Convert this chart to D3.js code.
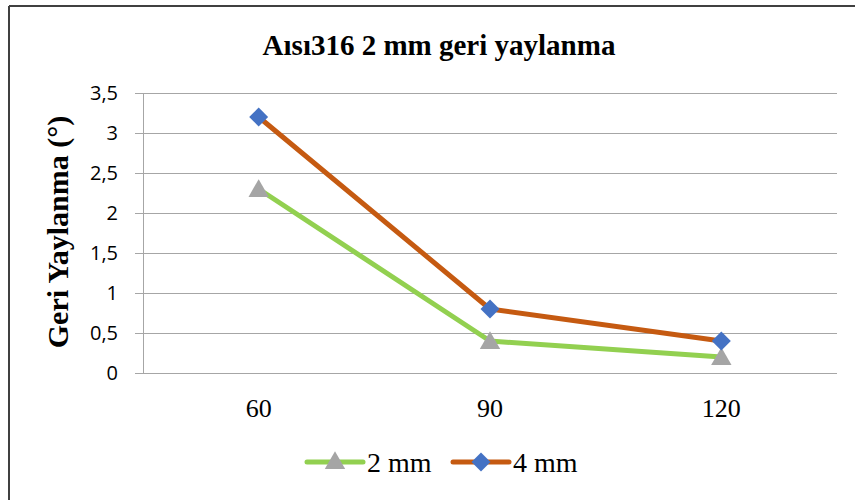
<!DOCTYPE html>
<html>
<head>
<meta charset="utf-8">
<script src="https://cdn.jsdelivr.net/npm/d3@7"></script>
<style>
  body { margin: 0; background: #fff; }
</style>
</head>
<body>
<div id="chart"></div>
<script>
// chart data
const categories = ["60", "90", "120"];
const series2mm = [2.3, 0.4, 0.2];
const series4mm = [3.2, 0.8, 0.4];
const yTicks = [0, 0.5, 1, 1.5, 2, 2.5, 3, 3.5];
const seriesNames = ["2 mm", "4 mm"];

const width = 855, height = 500;
const plot = {left: 143, right: 837, top: 93, bottom: 373};
const serif = "'Liberation Serif', 'Times New Roman', serif";

var svg = d3.select("#chart")
    .append("svg")
    .attr("width", width)
    .attr("height", height);

// outer frame (only top and left visible)
svg.append("line")
    .attr("x1", 9).attr("x2", 855).attr("y1", 6).attr("y2", 6)
    .style("stroke", "#404040").style("stroke-width", 2);
svg.append("line")
    .attr("x1", 9).attr("x2", 9).attr("y1", 6).attr("y2", 500)
    .style("stroke", "#404040").style("stroke-width", 2);

const x = d3.scaleBand()
    .domain(categories)
    .range([plot.left, plot.right]);

const y = d3.scaleLinear()
    .domain([0, 3.5])
    .range([plot.bottom, plot.top]);

const fmt = d => String(d).replace(".", ",");

// gridlines
svg.append("g")
    .selectAll("line")
    .data(yTicks)
    .enter()
    .append("line")
    .attr("x1", plot.left - 8)
    .attr("x2", plot.right)
    .attr("y1", d => Math.round(y(d)) + 0.5)
    .attr("y2", d => Math.round(y(d)) + 0.5)
    .style("stroke", "#a6a6a6")
    .style("stroke-width", 1);

// vertical axis line
svg.append("line")
    .attr("x1", plot.left + 0.5).attr("x2", plot.left + 0.5)
    .attr("y1", plot.top).attr("y2", plot.bottom)
    .style("stroke", "#a6a6a6");

// y tick labels
svg.append("g")
    .selectAll("text")
    .data(yTicks)
    .enter()
    .append("text")
    .attr("x", 118)
    .attr("y", d => y(d))
    .attr("dy", "0.36em")
    .attr("text-anchor", "end")
    .style("font-family", "'Open Sans', sans-serif")
    .style("font-size", "20px")
    .style("fill", "#000")
    .text(fmt);

// x tick labels
svg.append("g")
    .selectAll("text")
    .data(categories)
    .enter()
    .append("text")
    .attr("x", d => x(d) + x.bandwidth() / 2)
    .attr("y", 417)
    .attr("text-anchor", "middle")
    .style("font-family", serif)
    .style("font-size", "26px")
    .text(d => d);

// title
svg.append("text")
    .attr("x", 439)
    .attr("y", 55)
    .attr("text-anchor", "middle")
    .style("font-family", serif)
    .style("font-weight", "bold")
    .style("font-size", "29px")
    .text("Aısı316 2 mm geri yaylanma");

// y axis title
svg.append("text")
    .attr("transform", "translate(68,232) rotate(-90)")
    .attr("text-anchor", "middle")
    .style("font-family", serif)
    .style("font-weight", "bold")
    .style("font-size", "30px")
    .text("Geri Yaylanma (°)");

const line = d3.line()
    .x((d, i) => x(categories[i]) + x.bandwidth() / 2)
    .y(d => y(d));

const triangle = d3.symbol().type(d3.symbolTriangle).size(180);
const diamond = d3.symbol().type(d3.symbolSquare).size(180);

// 2 mm series
svg.append("path")
    .datum(series2mm)
    .attr("d", line)
    .style("fill", "none")
    .style("stroke", "#92d050")
    .style("stroke-width", 5)
    .style("stroke-linejoin", "round");

// 4 mm series
svg.append("path")
    .datum(series4mm)
    .attr("d", line)
    .style("fill", "none")
    .style("stroke", "#c55a11")
    .style("stroke-width", 5)
    .style("stroke-linejoin", "round");

svg.append("g")
    .selectAll("path")
    .data(series2mm)
    .enter()
    .append("path")
    .attr("d", triangle)
    .attr("transform", (d, i) => `translate(${x(categories[i]) + x.bandwidth() / 2},${y(d) + 2})`)
    .style("fill", "#a5a5a5");

svg.append("g")
    .selectAll("path")
    .data(series4mm)
    .enter()
    .append("path")
    .attr("d", diamond)
    .attr("transform", (d, i) => `translate(${x(categories[i]) + x.bandwidth() / 2},${y(d)}) rotate(45)`)
    .style("fill", "#4472c4");

// legend
const legendData = [
    {name: seriesNames[0], color: "#92d050", marker: triangle, markerColor: "#a5a5a5", rot: 0, dy: 1, x: 307},
    {name: seriesNames[1], color: "#c55a11", marker: diamond, markerColor: "#4472c4", rot: 45, dy: 0, x: 453}
];
const legend = svg.append("g");
const items = legend.selectAll("g")
    .data(legendData)
    .enter()
    .append("g")
    .attr("transform", d => `translate(${d.x},462)`);
items.append("line")
    .attr("x1", 0).attr("x2", 56)
    .style("stroke", d => d.color)
    .style("stroke-width", 5)
    .style("stroke-linecap", "round");
items.append("path")
    .attr("d", d => d.marker())
    .attr("transform", d => `translate(28,${d.dy}) rotate(${d.rot})`)
    .style("fill", d => d.markerColor);
items.append("text")
    .attr("x", 60)
    .attr("y", 10)
    .style("font-family", serif)
    .style("font-size", "28px")
    .text(d => d.name);
</script>
</body>
</html>
